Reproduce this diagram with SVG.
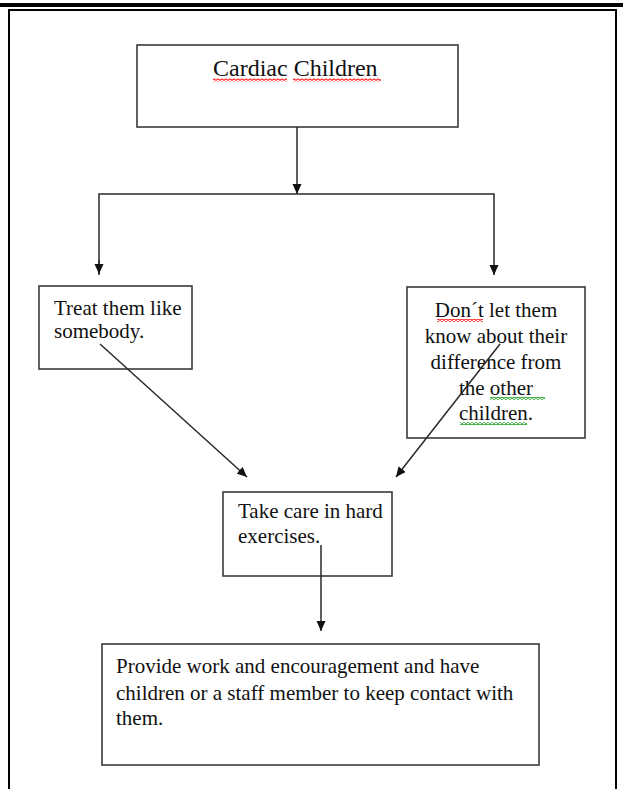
<svg xmlns="http://www.w3.org/2000/svg" width="623" height="789" viewBox="0 0 623 789">
  <style>
    .box { fill: #ffffff; stroke: #3a3a3a; stroke-width: 1.6; }
    .wire { fill: none; stroke: #2a2a2a; stroke-width: 1.5; }
    .txt { font-family: "Liberation Serif", "DejaVu Serif", serif; font-size: 21px; fill: #111111; }
    .title { font-size: 24px; }
  </style>
  <defs>
    <marker id="head" viewBox="0 0 10 10" refX="10" refY="5" markerWidth="10" markerHeight="10" markerUnits="userSpaceOnUse" orient="auto">
      <path d="M0,0.5 L10,5 L0,9.5 Z" fill="#111111"/>
    </marker>
    <pattern id="wavyRed" width="4" height="3" patternUnits="userSpaceOnUse">
      <polyline points="0,2.5 2,0.5 4,2.5" fill="none" stroke="#ff2020" stroke-width="1.1"/>
    </pattern>
    <pattern id="wavyGreen" width="4" height="3" patternUnits="userSpaceOnUse">
      <polyline points="0,2.5 2,0.5 4,2.5" fill="none" stroke="#20a020" stroke-width="1.1"/>
    </pattern>
  </defs>

  <rect x="0" y="0" width="623" height="789" fill="#ffffff"/>

  <!-- page rule and frame -->
  <rect x="0" y="3" width="623" height="4" fill="#000000"/>
  <path d="M9,789 V10 H616 V789" fill="none" stroke="#000000" stroke-width="2"/>

  <g id="cardiac-children">
    <rect class="box" x="137" y="45" width="321" height="82"/>
    <text class="txt title" x="213" y="76">Cardiac Children</text>
    <rect x="213" y="78.5" width="74" height="3" fill="url(#wavyRed)"/>
    <rect x="293" y="78.5" width="88" height="3" fill="url(#wavyRed)"/>
  </g>

  <g id="treat-them">
    <rect class="box" x="39" y="286" width="153" height="83"/>
    <text class="txt" x="54" y="315">Treat them like</text>
    <text class="txt" x="54" y="338">somebody.</text>
  </g>

  <g id="dont-let-them">
    <rect class="box" x="407" y="287" width="178" height="151"/>
    <g class="txt" text-anchor="middle">
      <text x="496" y="317">Don´t let them</text>
      <text x="496" y="343">know about their</text>
      <text x="496" y="369">difference from</text>
      <text x="496" y="395">the other</text>
      <text x="496" y="420">children.</text>
    </g>
    <rect x="437" y="319" width="46" height="3" fill="url(#wavyRed)"/>
    <rect x="490" y="397" width="55" height="3" fill="url(#wavyGreen)"/>
    <rect x="460" y="422" width="67" height="3" fill="url(#wavyGreen)"/>
  </g>

  <g id="take-care">
    <rect class="box" x="223" y="492" width="169" height="84"/>
    <text class="txt" x="238" y="518">Take care in hard</text>
    <text class="txt" x="238" y="543">exercises.</text>
  </g>

  <g id="provide-work">
    <rect class="box" x="102" y="644" width="437" height="121"/>
    <text class="txt" x="116" y="673">Provide work and encouragement and have</text>
    <text class="txt" x="116" y="700">children or a staff member to keep contact with</text>
    <text class="txt" x="116" y="725">them.</text>
  </g>

  <!-- connectors, drawn over the boxes -->
  <g id="connectors">
    <line class="wire" x1="297" y1="127" x2="297" y2="194" marker-end="url(#head)"/>
    <polyline class="wire" points="99,275 99,194 494,194 494,275" marker-end="url(#head)"/>
    <line class="wire" x1="99" y1="260" x2="99" y2="274" marker-end="url(#head)"/>
    <line class="wire" x1="100" y1="344" x2="247" y2="477" marker-end="url(#head)"/>
    <line class="wire" x1="500" y1="344" x2="396" y2="477" marker-end="url(#head)"/>
    <line class="wire" x1="321" y1="545" x2="321" y2="631" marker-end="url(#head)"/>
  </g>
</svg>
